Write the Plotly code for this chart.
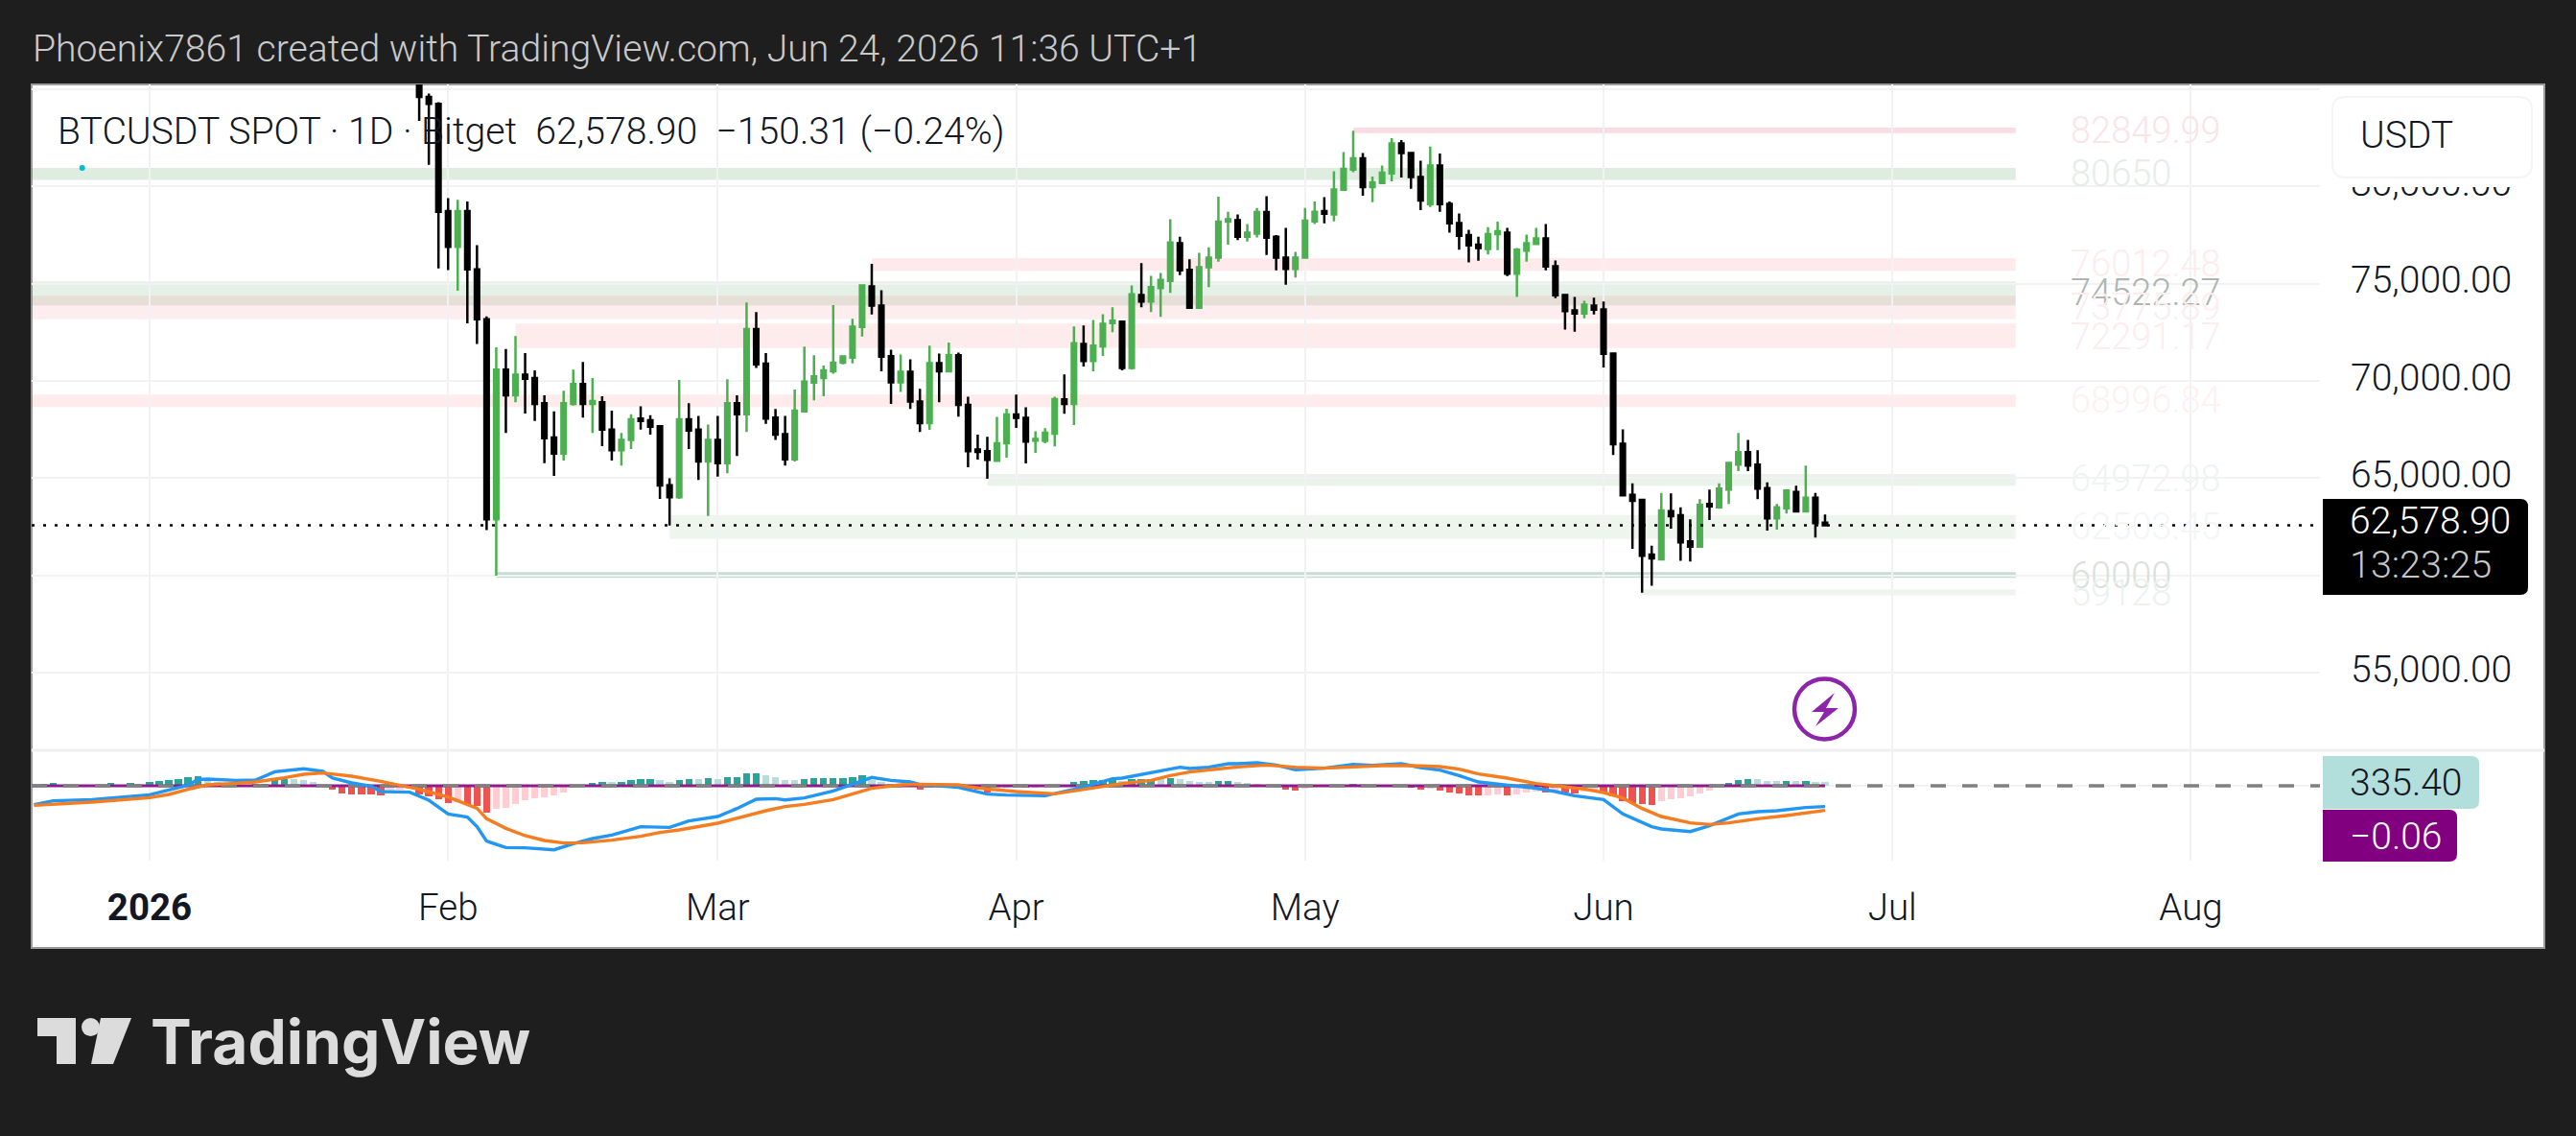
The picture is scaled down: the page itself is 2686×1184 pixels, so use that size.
import pandas as pd
import plotly.graph_objects as go

W, H = 2686, 1184

# ---------- DATA ----------
candle_first_day = "2026-01-29"
opens = [88000,84583,84231,78720,76890,78720,75725,73172,62887,70583,69262,70319,70143,68857,67096,66269,68822,69843,68822,68910,67501,66445,66973,68065,67977,67677,64648,64032,68030,67501,65863,66973,65776,68857,68294,72661,70882,68118,67272,65969,68435,69914,70143,70495,70935,71199,72767,
         74855,73869,71272,69924,70466,68938,67836,70910,70499,71321,68773,66472,66390,65897,66801,68280,68100,66932,66916,67294,69053,68823,71896,71025,71781,72965,73047,70664,74411,74082,74773,75134,77074,75710,73754,75841,76334,78175,78257,77403,77567,78668,77403,76334,75759,76334,78192,78718,78553,79819,80855,81430,79950,80164,80657,82202,81709,80476,79079,81068,79096,78109,77485,76992,76778,77534,77616,75513,76696,77041,77320,75890,74411,73622,73458,73869,73671,71403,66768,
         64155,63891,61081,60834,63316,63102,61755,61492,63678,63513,64417,65700,66341,65700,64500,62938,63464,64302,63300,64007,62725]
highs = [88500,84759,84320,79388,79300,79212,76975,73312,71728,71640,72309,71428,70548,69262,68435,69491,70583,70970,70143,69209,68470,67325,68294,68699,68241,67677,64999,70055,68857,68206,67765,68206,70090,69262,74035,73541,71428,68558,68206,69562,71762,71322,70794,73894,71322,73189,74904,
         76012,74658,71600,71354,71107,69595,71814,71403,71978,71452,69184,67245,67129,68149,68576,69299,68642,67409,67573,69184,70335,72800,72850,73129,73425,73787,73080,74904,76055,75397,75545,78307,77403,76252,76581,76860,79457,78685,78553,78060,78882,79490,77485,77863,76630,78882,79211,79441,80772,81758,82850,81709,80493,81068,82465,82367,81758,81315,82038,81676,79211,78603,77764,77403,77896,78175,77863,76827,77518,77863,78060,76186,74444,74313,74115,74280,74082,71403,67508,
         64746,63957,61541,64253,64220,63513,62889,63924,64417,64746,65815,67327,66965,66439,64796,63678,64417,64615,65650,64253,63135]
lows = [83350,81096,75778,75690,74633,72960,71904,62341,60000,67325,68910,68329,67941,65776,65124,65916,68734,68118,67325,66656,65916,65652,66498,67501,67237,63944,62570,63944,66498,64913,63064,65088,65264,66145,67378,70671,67800,66973,65652,65863,68435,68998,69209,70372,70847,70900,72274,
        73409,70499,68822,69431,68560,67376,67491,68905,70450,68165,65568,65963,64976,65847,66062,67590,65765,66308,66801,66636,68313,67738,70746,70499,71288,72504,70548,70581,73787,73540,73294,74526,75430,73754,73754,74822,76120,76992,77238,77156,77370,76466,75677,74937,75315,76285,78060,78093,78192,79819,80723,79507,79178,80115,80246,80443,79868,78767,78931,78685,77616,76745,76088,76170,76499,76712,75381,74313,76120,77025,75677,74247,72636,72521,73211,73409,70696,66193,64122,
        61377,59128,59486,60801,62412,60768,60719,61459,62856,63431,63678,65371,65371,63924,62314,62363,63185,63267,63300,61952,62527]
closes = [84583,84231,78684,76887,78720,75725,73172,62887,70583,69262,70319,70108,68822,67061,66269,68857,69843,68822,68963,67501,66445,66973,68030,67942,67642,64631,64032,68030,67448,65863,66973,65776,68857,68294,72661,70847,68065,67237,65969,68470,69966,70231,70548,70935,71252,72784,74904,
          73869,71239,69924,70466,68938,67836,70910,70499,71321,68773,66390,66356,65946,66801,68280,68100,66883,67015,67343,69069,68823,71929,71025,71814,72932,73096,70664,74444,74082,74822,75184,77107,75677,73754,75841,76334,78175,78307,77403,77616,78668,77353,76334,75759,76334,78225,78685,78586,79835,80887,81430,79950,80197,80690,82202,81709,80476,79260,81068,79079,78093,77452,76959,76827,77534,77682,75513,76745,77074,77320,75874,74395,73589,73458,73918,73655,71387,66752,64122,
          63842,61015,60883,63349,63053,61705,61492,63628,63563,64467,65782,66341,65650,64467,62938,63513,64368,63300,64007,62692,62578.9]

price_ticks = [55000,60000,65000,70000,75000,80000,85000]
price_tick_labels = ["55,000.00","60,000.00","65,000.00","70,000.00","75,000.00","80,000.00",""]
last_price = 62578.90

month_ticks = ["2026-01-01","2026-02-01","2026-03-01","2026-04-01","2026-05-01","2026-06-01","2026-07-01","2026-08-01"]
month_labels = ["<b>2026</b>","Feb","Mar","Apr","May","Jun","Jul","Aug"]

# zones: label text, first day (offset from Jan 1), low, high
zone_labels = ["82849.99","80650","76012.48","74522.27","73775.89","72291.17","68996.84","64972.98","62503.45","60000","59128"]
zone_start = [125,-12.25,75,-12.25,-12.25,38,-12.25,87,54,36,155]
zone_low   = [82732,80320,75661,73881,73170,71691,68659,64615,61884,59882,58994]
zone_high  = [83013,80937,76302,75118,74379,72949,69300,65227,63116,60178,59290]
zone_mid   = [82850,80650,76012,74522,73776,72291,68997,64973,62503,60000,59128]
zone_fill  = ["rgba(236,64,110,0.19)","rgba(56,142,60,0.16)","rgba(242,54,69,0.11)","rgba(56,142,60,0.13)","rgba(242,54,69,0.09)","rgba(242,54,69,0.10)","rgba(242,54,69,0.10)","rgba(56,142,60,0.11)","rgba(56,142,60,0.09)","rgba(30,110,70,0.24)","rgba(56,142,60,0.09)"]
zone_text  = ["#fbe4e8","#e6ede8","#fcedef","#aeb5b0","#fbeef0","#fcedef","#fdf1f2","#f0f4f1","#f3f6f4","#d8e2db","#ecf2ee"]
zone_end_day = 193.8
zone_label_day = 199.3

hist_first_day = -12
hist_values = [0,130,208,52,52,26,26,52,234,52,208,182,312,390,468,520,676,780,390,312,104,78,52,104,156,442,572,546,442,312,52,
 -338,-598,-676,-676,-689,-806,-338,-286,-234,-728,-858,-1118,-1378,-1326,-1508,-1638,-2158,-1898,-1768,-1456,-1170,-988,-910,-780,-520,-130,-78,
 234,312,286,312,468,546,572,468,312,468,546,533,624,546,702,728,1014,1027,858,702,468,442,546,624,637,650,663,702,858,494,312,130,52,
 -78,-286,-182,-78,-130,-52,-286,-338,-520,-208,-182,-156,-156,-130,-52,-26,
 52,286,390,442,494,546,390,546,559,572,546,624,546,390,312,286,390,416,286,208,182,78,26,
 -286,-390,-234,-104,-78,-26,26,130,104,52,26,-26,-52,-130,-286,-260,-390,-520,-598,-754,-767,-754,-676,-754,-676,-546,-468,-520,-468,-546,-650,-468,-390,-598,-858,-1248,-1378,-1508,-1560,-1274,-1118,-1040,-858,-650,-390,-78,
 234,442,546,533,390,377,390,377,390,338,335.4]

macd_days = [-12,-10,-6,-2,0,2,4,5,6,9,11,13,16,18,19,21,23,24,27,29,31,33,34,35,37,39,42,44,46,48,51,54,56,59,61,63,65,66,68,71,72,74,75,77,79,80,84,87,89,93,96,98,100,101,103,105,107,108,110,112,113,115,117,119,122,125,127,130,132,134,136,138,141,144,146,148,151,153,156,157,160,162,165,167,169,172,174]
macd_values = [-1534,-1222,-1118,-858,-728,-338,52,520,546,442,468,1144,1378,1170,624,234,-26,-468,-520,-1170,-2288,-2548,-3328,-4498,-5018,-5044,-5200,-4706,-4290,-4004,-3328,-3380,-2860,-2496,-1846,-1092,-1040,-1144,-988,-416,-130,390,676,442,312,104,-130,-676,-754,-806,-286,130,572,624,910,1248,1508,1404,1508,1794,1794,1872,1690,1300,1430,1742,1664,1794,1482,1274,832,312,52,-208,-468,-806,-1118,-2288,-3328,-3510,-3718,-3250,-2288,-2106,-2028,-1768,-1690]
signal_days = [-12,-6,0,2,4,6,9,11,14,16,18,21,24,26,28,31,34,35,37,39,41,43,45,48,51,53,55,59,61,64,66,68,71,73,75,78,80,84,85,87,90,94,96,99,101,104,106,108,110,113,116,119,122,125,128,131,134,136,138,141,144,146,149,151,153,155,157,160,162,164,167,170,174]
signal_values = [-1586,-1326,-962,-702,-286,78,208,312,650,936,1040,780,364,26,-286,-910,-1820,-2678,-3458,-4056,-4446,-4654,-4628,-4420,-4108,-3796,-3588,-3042,-2626,-2028,-1690,-1508,-1118,-650,-208,78,130,78,-78,-260,-468,-650,-416,-78,182,442,832,1118,1274,1534,1690,1508,1430,1560,1638,1638,1560,1352,962,624,182,0,-260,-546,-988,-1846,-2496,-3016,-3146,-3016,-2678,-2418,-2002]
zero_value = -0.06
hist_last_label = "335.40"
zero_label = "−0.06"

# ---------- HELPERS ----------
jan1 = pd.Timestamp("2026-01-01")
def day(d):
    return jan1 + pd.to_timedelta(d, unit="D")

px = lambda v: v / W
py = lambda v: 1 - v / H

def rbox(x0, y0, x1, y1, r, fill, line=None, left_round=False):
    L, T, R, B = px(x0), py(y0), px(x1), py(y1)
    rx, ry = r / W, r / H
    if left_round:
        p = (f"M{L+rx},{T} L{R-rx},{T} Q{R},{T} {R},{T-ry} L{R},{B+ry} Q{R},{B} {R-rx},{B} "
             f"L{L+rx},{B} Q{L},{B} {L},{B+ry} L{L},{T-ry} Q{L},{T} {L+rx},{T} Z")
    else:
        p = (f"M{L},{T} L{R-rx},{T} Q{R},{T} {R},{T-ry} L{R},{B+ry} Q{R},{B} {R-rx},{B} L{L},{B} Z")
    return dict(type="path", xref="paper", yref="paper", path=p, fillcolor=fill,
                line=dict(color=line or fill, width=2 if line else 0), layer="above")

def poly(points, fill):
    p = "M" + " L".join(f"{px(a)},{py(b)}" for a, b in points) + " Z"
    return dict(type="path", xref="paper", yref="paper", path=p, fillcolor=fill,
                line=dict(width=0), layer="above")

LIGHT = 300
def label(x, y, text, size=39, color="#131722", family="Roboto", anchor="left", weight=LIGHT):
    return dict(xref="paper", yref="paper", x=px(x), y=py(y), text=text, showarrow=False,
                xanchor=anchor, yanchor="middle", align="left",
                font=dict(family=family, size=size, color=color, weight=weight), borderpad=0, borderwidth=0)

# ---------- FIGURE ----------
fig = go.Figure()

candle_dates = pd.date_range(candle_first_day, periods=len(opens), freq="D")
fig.add_trace(go.Candlestick(
    x=candle_dates, open=opens, high=highs, low=lows, close=closes, xaxis="x", yaxis="y",
    whiskerwidth=0,
    increasing=dict(line=dict(color="#4caf50", width=2.5), fillcolor="#4caf50"),
    decreasing=dict(line=dict(color="#000000", width=2.5), fillcolor="#000000"),
    showlegend=False, hoverinfo="skip"))

range_left, range_right = day(-12.25), day(225.4)
fig.add_trace(go.Scatter(x=[range_left, range_right], y=[last_price, last_price], mode="lines",
                         line=dict(color="#000000", width=2.5, dash="3px,9px"),
                         xaxis="x", yaxis="y", showlegend=False, hoverinfo="skip"))
fig.add_trace(go.Scatter(x=[day(-7)], y=[zone_high[1]], mode="markers",
                         marker=dict(color="#00bcd4", size=6, line=dict(width=0)),
                         xaxis="x", yaxis="y", showlegend=False, hoverinfo="skip"))
# carrier of the price-scale labels, which sit slightly above their grid lines
fig.add_trace(go.Scatter(x=[range_left], y=[last_price], mode="markers", marker=dict(opacity=0),
                         xaxis="x", yaxis="y3", showlegend=False, hoverinfo="skip"))

# MACD pane
hist_dates = [day(hist_first_day + i) for i in range(len(hist_values))]
hist_colors = []
for i, v in enumerate(hist_values):
    prev = hist_values[i - 1] if i else 0
    if v >= 0:
        hist_colors.append("#26a69a" if v >= prev else "#b2dfdb")
    else:
        hist_colors.append("#ef5350" if v <= prev else "#ffcdd2")
fig.add_trace(go.Bar(x=hist_dates, y=hist_values, marker=dict(color=hist_colors, line=dict(width=0)),
                     width=0.73 * 86400000, xaxis="x2", yaxis="y2", showlegend=False, hoverinfo="skip"))
fig.add_trace(go.Scatter(x=[day(-12.25), day(174)], y=[zero_value, zero_value], mode="lines",
                         line=dict(color="#8e1a8e", width=3), xaxis="x2", yaxis="y2",
                         showlegend=False, hoverinfo="skip"))
fig.add_trace(go.Scatter(x=[range_left, range_right], y=[0, 0], mode="lines",
                         line=dict(color="#808080", width=3.5, dash="16px,17px"), xaxis="x2", yaxis="y2",
                         showlegend=False, hoverinfo="skip"))
fig.add_trace(go.Scatter(x=[day(d) for d in macd_days], y=macd_values, mode="lines",
                         line=dict(color="#2196f3", width=3.4), xaxis="x2", yaxis="y2",
                         showlegend=False, hoverinfo="skip"))
fig.add_trace(go.Scatter(x=[day(d) for d in signal_days], y=signal_values, mode="lines",
                         line=dict(color="#f57c1f", width=3.4), xaxis="x2", yaxis="y2",
                         showlegend=False, hoverinfo="skip"))

grid = "#f2f2f4"
shapes = [
    dict(type="rect", xref="paper", yref="paper", x0=px(33), x1=px(2653), y0=py(988), y1=py(88),
         fillcolor="#ffffff", line=dict(color="#9a9a9a", width=2), layer="below"),
]
for s, lo, hi, c in zip(zone_start, zone_low, zone_high, zone_fill):
    shapes.append(dict(type="rect", xref="x", yref="y", x0=day(s), x1=day(zone_end_day), y0=lo, y1=hi,
                       fillcolor=c, line=dict(width=0), layer="below"))

# pane separator, UI boxes, icon and logo
shapes += [
    dict(type="line", xref="paper", yref="paper", x0=px(33), x1=px(2653), y0=py(782), y1=py(782),
         line=dict(color="#efeff1", width=3), layer="below"),
    dict(type="rect", xref="paper", yref="paper", x0=px(2425), x1=px(2650), y0=py(195), y1=py(90),
         fillcolor="#ffffff", line=dict(width=0), layer="above"),
    rbox(2432, 101, 2640, 185, 14, "#ffffff", line="#f4f4f6", left_round=True),
    rbox(2422, 520, 2636, 620, 8, "#000000"),
    rbox(2422, 788, 2585, 843, 8, "#b2dfdb"),
    rbox(2422, 844, 2562, 898, 8, "#800080"),
    dict(type="circle", xref="paper", yref="paper", x0=px(1871), x1=px(1934), y0=py(770.5), y1=py(707.5),
         line=dict(color="#8e24aa", width=4.5), fillcolor="rgba(255,255,255,0)", layer="above"),
    poly([(1913, 722), (1889, 742), (1902, 742), (1893, 757), (1917, 738), (1904, 738)], "#8e24aa"),
    poly([(39, 1061), (79, 1061), (79, 1109), (59, 1109), (59, 1080), (39, 1080)], "#dcdcdc"),
    poly([(105, 1061), (137, 1061), (118, 1109), (95, 1109)], "#dcdcdc"),
    dict(type="circle", xref="paper", yref="paper", x0=px(85), x1=px(104), y0=py(1080), y1=py(1061),
         line=dict(width=0), fillcolor="#dcdcdc", layer="above"),
]

annotations = [
    label(34, 51, "Phoenix7861 created with TradingView.com, Jun 24, 2026 11:36 UTC+1", size=39.15, color="#c9c9c9"),
    label(60, 137, "BTCUSDT SPOT · 1D · Bitget\u00a0\u00a062,578.90\u00a0\u00a0−150.31 (−0.24%)", size=39.2),
    label(2461, 141, "USDT", size=39),
    label(2450, 543, "62,578.90", size=39, color="#ffffff"),
    label(2450, 588, "13:23:25", size=39.5, color="#c6c6c6"),
    label(2450, 816, hist_last_label, size=39, color="#131722"),
    label(2450, 872, zero_label, size=39, color="#ffffff"),
    label(157, 1085, "<b>TradingView</b>", size=64, color="#dcdcdc", family="Inter", weight=None),
]
for t, m, c in zip(zone_labels, zone_mid, zone_text):
    annotations.append(dict(xref="x", yref="y", x=day(zone_label_day), y=m, text=t, showarrow=False,
                            xanchor="left", yanchor="middle", font=dict(family="Roboto", size=38, color=c, weight=LIGHT)))

axis_x = dict(type="date", range=[range_left, range_right], domain=[px(33), px(2419)],
              tickvals=month_ticks, ticktext=month_labels, showgrid=True, gridcolor=grid, gridwidth=2,
              zeroline=False, showline=False, ticks="", rangeslider=dict(visible=False))

fig.update_layout(
    width=W, height=H, autosize=False,
    margin=dict(l=0, r=0, t=0, b=0, pad=0),
    paper_bgcolor="#1e1e1e", plot_bgcolor="#ffffff",
    font=dict(family="Roboto", color="#131722"),
    bargap=0, boxgap=0.35, showlegend=False, dragmode=False,
    shapes=shapes, annotations=annotations,
    xaxis=dict(**axis_x, anchor="y", showticklabels=False),
    xaxis2=dict(**axis_x, anchor="y2", matches="x", showticklabels=True,
                tickfont=dict(family="Roboto", size=38.5, color="#131722", weight=LIGHT), ticklabelstandoff=22),
    yaxis=dict(domain=[py(782), py(88)], range=[51030, 85227], side="right", anchor="x",
               tickvals=price_ticks, ticktext=[""] * len(price_ticks), showgrid=True, gridcolor=grid, gridwidth=2,
               zeroline=False, showline=False, ticks=""),
    yaxis3=dict(domain=[py(782), py(88)], range=[50833, 85030], side="right", anchor="x", overlaying="y",
                tickvals=price_ticks, ticktext=price_tick_labels, showgrid=False,
                zeroline=False, showline=False, ticks="", ticklabelstandoff=31,
                tickfont=dict(family="Roboto", size=39, color="#131722", weight=LIGHT)),
    yaxis2=dict(domain=[py(897), py(782)], range=[-6084, 2886], side="right", anchor="x2",
                tickvals=[0], ticktext=[""], showgrid=True, gridcolor=grid, gridwidth=2,
                zeroline=False, showline=False, ticks=""),
)

fig.write_html("out.html", config=dict(displayModeBar=False, responsive=False),
               post_script="document.body.style.margin='0';document.body.style.background='#1e1e1e';")
